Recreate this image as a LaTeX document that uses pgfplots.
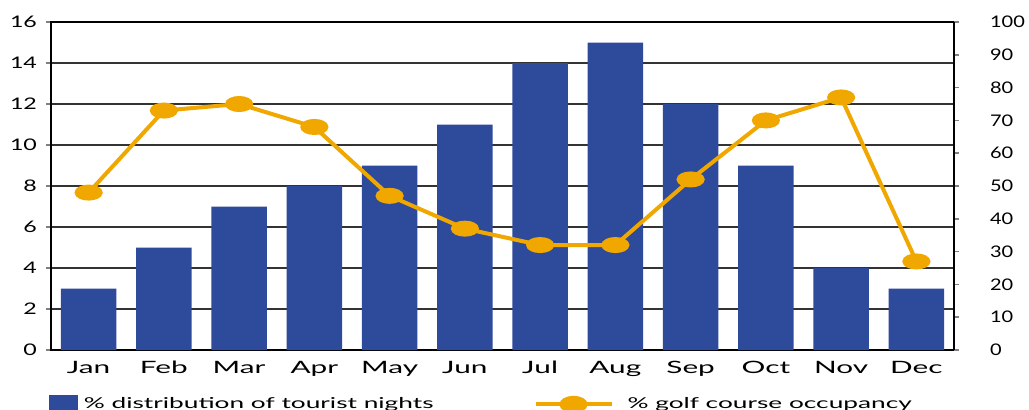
\documentclass[border=0pt]{standalone}
\usepackage{fontspec}
\setmainfont[FakeStretch=1.45]{Lato}
\newfontfamily\wide[FakeStretch=1.75]{Lato}
\newfontfamily\narrowfont[FakeStretch=1.25]{Lato}
\usepackage{pgfplots}
\pgfplotsset{compat=1.18}
\definecolor{barblue}{HTML}{2E4A9A}
\definecolor{golf}{HTML}{F0A800}
\begin{document}
\begin{tikzpicture}
\begin{axis}[
  at={(0,0)}, anchor=south west,
  scale only axis, width=451.5pt, height=164pt,
  xmin=-0.5, xmax=11.5, ymin=0, ymax=16,
  xtick={0,...,11},
  xticklabels={Jan,Feb,Mar,Apr,May,Jun,Jul,Aug,Sep,Oct,Nov,Dec},
  xtick style={draw=none},
  ytick={0,2,...,16},
  ymajorgrids, grid style={black!80, line width=0.7pt},
  axis line style={line width=0.9pt},
  ytick pos=left, xtick pos=bottom,
  tick align=outside, major tick length=2.5pt,
  ytick style={line width=0.8pt},
  /pgf/number format/assume math mode=true,
  yticklabel style={font=\fontsize{8}{9}\selectfont, xshift=-1pt},
  xticklabel style={font=\wide\fontsize{8.5}{10}\selectfont, yshift=0.5pt},
  ybar, bar width=27.8pt,
]
\addplot[fill=barblue, draw=none] coordinates {
  (0,3) (1,5) (2,7) (3,8) (4,9) (5,11) (6,14) (7,15) (8,12) (9,9) (10,4) (11,3)};
\end{axis}
\begin{axis}[
  at={(0,0)}, anchor=south west,
  scale only axis, width=451.5pt, height=164pt,
  xmin=-0.5, xmax=11.5, ymin=0, ymax=100,
  axis x line=none,
  axis y line*=right,
  axis line style={line width=0.9pt},
  ytick={0,10,...,100},
  tick align=outside, major tick length=2.5pt,
  ytick style={line width=0.8pt},
  /pgf/number format/assume math mode=true,
  yticklabel style={font=\narrowfont\fontsize{8}{9}\selectfont, anchor=west, xshift=12pt},
  legend columns=2,
  legend cell align=left,
  legend style={at={(axis description cs:0,0)}, anchor=north west,
    xshift=-1pt, yshift=-21.5pt, draw=none, fill=none, inner sep=0pt,
    font=\wide\fontsize{7.5}{8.5}\selectfont,
    /tikz/every even column/.append style={column sep=48pt}},
]
\addlegendimage{legend image code/.code={
  \fill[barblue] (0pt,-4.5pt) rectangle (14pt,4.5pt);
  \path[draw=none] (0pt,0pt) -- (15pt,0pt);}}
\addlegendentry{\% distribution of tourist nights}
\addplot[golf, line width=2pt, mark=*, mark size=3pt,
  mark options={xscale=2},
  legend image code/.code={
    \draw[golf, line width=2pt] (0pt,0pt) -- (38pt,0pt);
    \fill[golf] (19pt,0pt) ellipse (6pt and 3.3pt);
    \path[draw=none] (0pt,0pt) -- (44pt,0pt);}]
  coordinates {
  (0,48) (1,73) (2,75) (3,68) (4,47) (5,37) (6,32) (7,32) (8,52) (9,70) (10,77) (11,27)};
\addlegendentry{\% golf course occupancy}
\end{axis}
\pgfresetboundingbox
\useasboundingbox (-25.5pt,-29.5pt) rectangle (489pt,175pt);
\end{tikzpicture}
\end{document}
